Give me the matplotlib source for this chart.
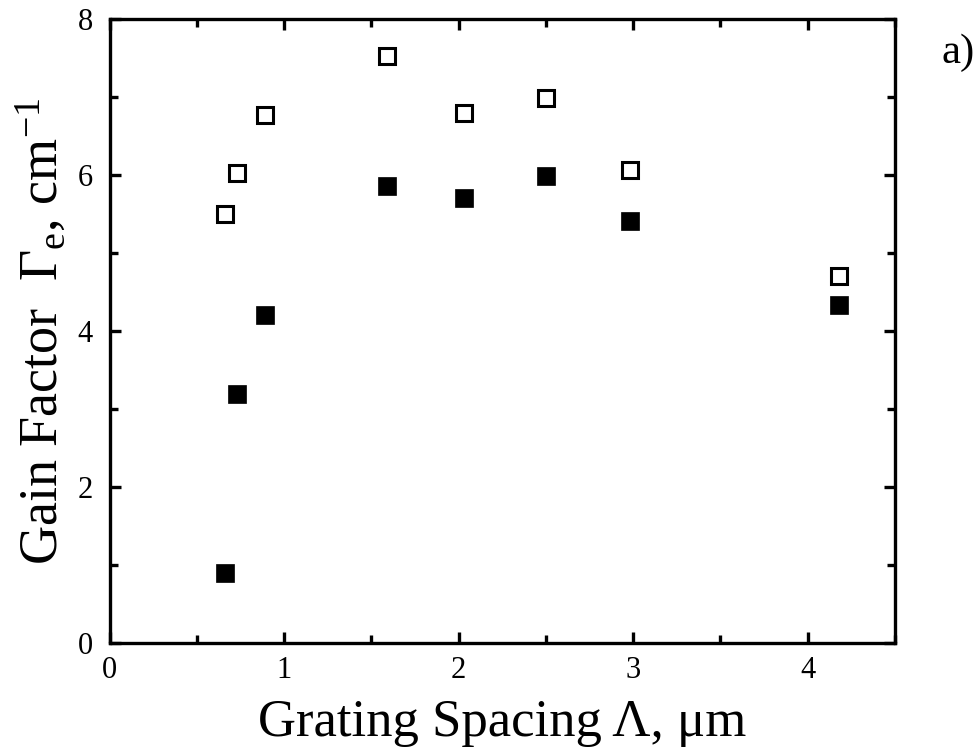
import matplotlib.pyplot as plt
from matplotlib.ticker import MultipleLocator

plt.rcParams['font.family'] = ['Liberation Serif', 'DejaVu Serif']
plt.rcParams['mathtext.fontset'] = 'custom'
plt.rcParams['mathtext.rm'] = 'Liberation Serif'
plt.rcParams['mathtext.it'] = 'Liberation Serif'

# grating spacing, um
spacing = [0.66, 0.73, 0.89, 1.59, 2.03, 2.50, 2.98, 4.18]
# gain factor, cm^-1
gain_open = [5.50, 6.02, 6.77, 7.53, 6.80, 6.98, 6.07, 4.70]
gain_filled = [0.90, 3.19, 4.20, 5.86, 5.71, 5.99, 5.41, 4.33]

fig = plt.figure(figsize=(9.8, 7.55), dpi=100)
ax = fig.add_axes([0.112, 0.148, 0.801, 0.827])

ax.plot(spacing, gain_open, 's', ms=11.5, mfc='white', mec='black', mew=2.2, ls='none')
ax.plot(spacing, gain_filled, 's', ms=13, mfc='black', mec='black', mew=0.5, ls='none')

ax.set_xlim(0, 4.5)
ax.set_ylim(0, 8)
ax.xaxis.set_major_locator(MultipleLocator(1))
ax.xaxis.set_minor_locator(MultipleLocator(0.5))
ax.yaxis.set_major_locator(MultipleLocator(2))
ax.yaxis.set_minor_locator(MultipleLocator(1))
ax.tick_params(which='both', direction='in', top=True, right=True, width=2.4, labelsize=22)
ax.tick_params(which='major', length=8)
ax.tick_params(which='minor', length=6)
ax.tick_params(axis='y', pad=12)
ax.tick_params(axis='x', pad=9)
for s in ax.spines.values():
    s.set_linewidth(2.4)

ax.set_xlabel('Grating Spacing \u039b, \u03bcm', fontsize=38, labelpad=10)
ax.set_ylabel('Gain Factor  \u0393$_{e}$, cm$^{-1}$', fontsize=39, labelpad=6)

fig.text(0.995, 0.93, 'a)', fontsize=31, ha='right', va='center')

fig.savefig('out.png', dpi=100)
